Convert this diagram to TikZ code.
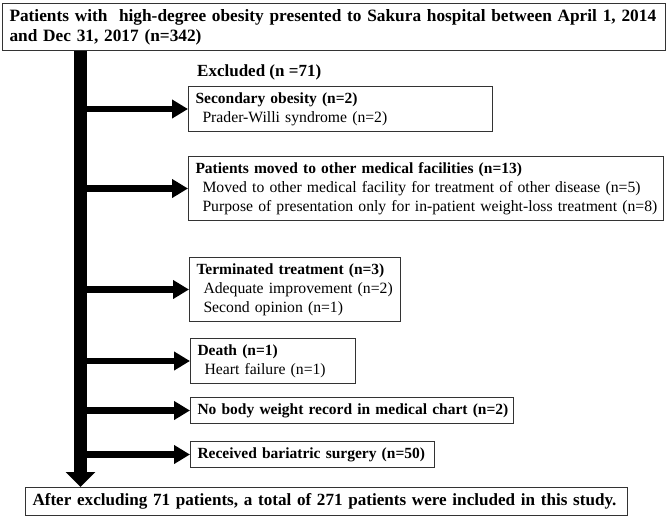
\documentclass[tikz,border=0pt]{standalone}
\usepackage{fontspec}
\setmainfont{Liberation Serif}
\usetikzlibrary{arrows.meta,positioning}

\newcommand{\hd}[1]{\mbox{\bfseries #1}}
\newcommand{\subline}[1]{\\\mbox{\hspace*{7pt}\fontsize{15.7}{19}\selectfont #1}}

\begin{document}
\begin{tikzpicture}[x=1pt, y=-1pt,
    box/.style={draw=black!80, line width=1pt, anchor=north west, align=left, inner xsep=7pt, inner ysep=0pt, font=\fontsize{15.5}{19}\selectfont},
    bigbox/.style={box, font=\bfseries\fontsize{17.3}{20}\selectfont},
    trunk/.style={-{Triangle[width=29pt,length=15pt]}, line width=13pt},
    branch/.style={-{Triangle[width=18pt,length=16pt]}, line width=6.5pt}
]
\useasboundingbox (0,0) rectangle (669,517);

% start and end of the flow
\node[bigbox, text width=649pt, minimum height=47pt] (start) at (2,3)
  {\mbox{Patients with~ high-degree obesity presented to Sakura hospital between April 1, 2014}\\and Dec 31, 2017 (n=342)};
\node[bigbox, text width=588pt, minimum height=28pt, font=\bfseries\fontsize{17.1}{19}\selectfont] (final) at (25,487)
  {\mbox{After excluding 71 patients, a total of 271 patients were included in this study.}};

% exclusions
\node[anchor=west, inner sep=0pt, font=\bfseries\fontsize{17}{19}\selectfont] (excl) at (197,72) {Excluded (n =71)};

\node[box, text width=290pt, minimum height=45pt] (sec) at (188,86)
  {\hd{Secondary obesity (n=2)}\subline{Prader-Willi syndrome (n=2)}};
\node[box, text width=461pt, minimum height=64pt] (moved) at (188,156)
  {\hd{Patients moved to other medical facilities (n=13)}\subline{Moved to other medical facility for treatment of other disease (n=5)}\subline{Purpose of presentation only for in-patient weight-loss treatment (n=8)}};
\node[box, text width=197pt, minimum height=64pt] (term) at (189,257)
  {\hd{Terminated treatment (n=3)}\subline{Adequate improvement (n=2)}\subline{Second opinion (n=1)}};
\node[box, text width=151pt, minimum height=45pt] (death) at (190,338)
  {\hd{Death (n=1)}\subline{Heart failure (n=1)}};
\node[box, text width=309pt, minimum height=26pt] (noweight) at (190,397)
  {\hd{No body weight record in medical chart (n=2)}};
\node[box, text width=230pt, minimum height=26pt] (surgery) at (190,441)
  {\hd{Received bariatric surgery (n=50)}};

% arrows
\coordinate (spine) at (80.5,0);
\draw[trunk] (spine |- start.south) -- (spine |- final.north);
\foreach \b in {sec,moved,term,death,noweight,surgery}
  \draw[branch] (spine |- \b.west) -- (\b.west);

\end{tikzpicture}
\end{document}
